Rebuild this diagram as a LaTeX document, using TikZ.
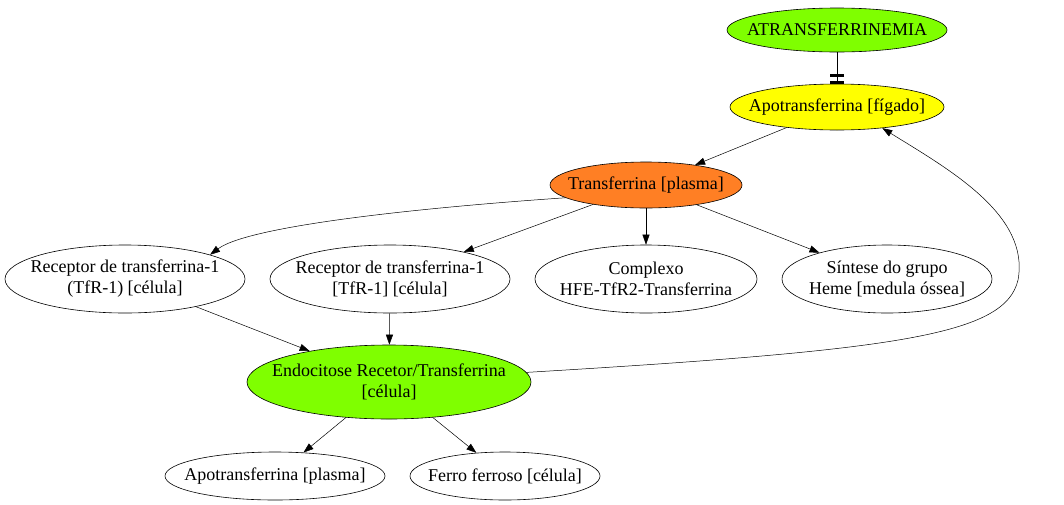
\documentclass[tikz,border=0pt]{standalone}
\usepackage{fontspec}
\setmainfont{Liberation Serif}
\usetikzlibrary{shapes.geometric,arrows.meta}
\definecolor{lime}{HTML}{7FFF00}
\definecolor{yel}{HTML}{FFFF00}
\definecolor{orng}{HTML}{FF7F24}
\tikzset{
  ev/.style={draw, ellipse, line width=0.6pt, inner xsep=-35pt, inner ysep=-6pt, align=center, font=\fontsize{18}{21}\selectfont},
  arr/.style={draw, line width=0.5pt, -{Triangle[length=10pt,width=7pt]}},
  tee/.style={draw, line width=0.5pt, -{Bar[width=14pt,line width=3pt,sep=3.5pt]Bar[width=14pt,line width=3pt]}}
}

\begin{document}
\begin{tikzpicture}[x=1pt,y=-1pt]
  \useasboundingbox (0,0) rectangle (1064,504);

  \node[ev, fill=lime, minimum width=220, minimum height=44] (atr) at (837,30) {ATRANSFERRINEMIA};
  \node[ev, fill=yel, minimum width=214, minimum height=46] (apof) at (837,107) {Apotransferrina [fígado]};
  \node[ev, fill=orng, minimum width=192, minimum height=46] (trf) at (646,185) {Transferrina [plasma]};

  \node[ev, minimum width=240, minimum height=68] (rec1) at (125,279) {Receptor de transferrina-1\\(TfR-1) [célula]};
  \node[ev, minimum width=240, minimum height=68] (rec2) at (390,279) {Receptor de transferrina-1\\{[TfR-1]} [célula]};
  \node[ev, minimum width=222, minimum height=68] (cpx) at (646,279) {Complexo\\HFE-TfR2-Transferrina};
  \node[ev, minimum width=210, minimum height=68] (heme) at (887,279) {Síntese do grupo\\Heme [medula óssea]};

  \node[ev, fill=lime, minimum width=284, minimum height=74] (endo) at (389,382) {Endocitose Recetor/Transferrina\\{[célula]}};

  \node[ev, minimum width=220, minimum height=48] (apop) at (275,476) {Apotransferrina [plasma]};
  \node[ev, minimum width=190, minimum height=48] (fe) at (505,476) {Ferro ferroso [célula]};

  \coordinate (bend) at (1018,280); % turning point of the long way back

  \draw[tee] (atr) -- (apof);
  \draw[arr] (apof) -- (trf);
  \draw[arr] (trf.189) .. controls (430,207) and (250,225) .. (rec1.north east);
  \draw[arr] (trf) -- (rec2);
  \draw[arr] (trf) -- (cpx);
  \draw[arr] (trf) -- (heme);
  \draw[arr] (rec1) -- (endo);
  \draw[arr] (rec2) -- (endo);
  \draw[arr] (endo) -- (apop);
  \draw[arr] (endo) -- (fe);
  \draw[arr] (endo.4) .. controls (900,350) and (1005,335) .. (bend)
    .. controls (1030,215) and (950,170) .. (apof.-25);
\end{tikzpicture}
\end{document}
